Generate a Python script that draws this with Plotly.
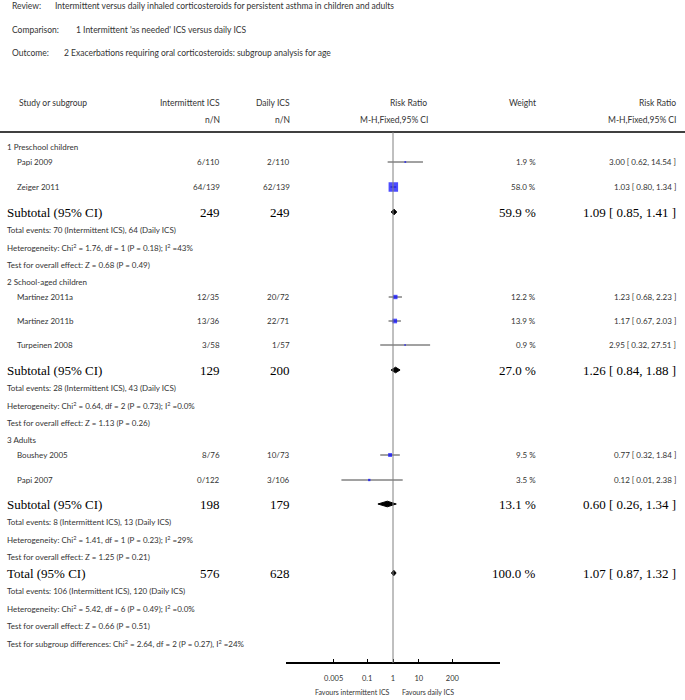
import numpy as np
import plotly.graph_objects as go

# ---- header texts
review = "Intermittent versus daily inhaled corticosteroids for persistent asthma in children and adults"
comparison = "1 Intermittent 'as needed' ICS versus daily ICS"
outcome = "2 Exacerbations requiring oral corticosteroids: subgroup analysis for age"

# ---- studies
studies = ["Papi 2009", "Zeiger 2011", "Martinez 2011a", "Martinez 2011b",
           "Turpeinen 2008", "Boushey 2005", "Papi 2007"]
study_group = [0, 0, 1, 1, 1, 2, 2]
int_events = [6, 64, 12, 13, 3, 8, 0]
int_total = [110, 139, 35, 36, 58, 76, 122]
daily_events = [2, 62, 20, 22, 1, 10, 3]
daily_total = [110, 139, 72, 71, 57, 73, 106]
study_rr = [3.00, 1.03, 1.23, 1.17, 2.95, 0.77, 0.12]
study_lo = [0.62, 0.80, 0.68, 0.67, 0.32, 0.32, 0.01]
study_hi = [14.54, 1.34, 2.23, 2.03, 27.51, 1.84, 2.38]
study_weight = [1.9, 58.0, 12.2, 13.9, 0.9, 9.5, 3.5]

# ---- subgroups
groups = ["1 Preschool children", "2 School-aged children", "3 Adults"]
grp_int_total = [249, 129, 198]
grp_daily_total = [249, 200, 179]
grp_weight = [59.9, 27.0, 13.1]
grp_rr = [1.09, 1.26, 0.60]
grp_lo = [0.85, 0.84, 0.26]
grp_hi = [1.41, 1.88, 1.34]
grp_int_ev = [70, 28, 8]
grp_daily_ev = [64, 43, 13]
grp_het = ["Chi<sup>2</sup> = 1.76, df = 1 (P = 0.18); I<sup>2</sup> =43%",
           "Chi<sup>2</sup> = 0.64, df = 2 (P = 0.73); I<sup>2</sup> =0.0%",
           "Chi<sup>2</sup> = 1.41, df = 1 (P = 0.23); I<sup>2</sup> =29%"]
grp_z = ["Z = 0.68 (P = 0.49)", "Z = 1.13 (P = 0.26)", "Z = 1.25 (P = 0.21)"]

# ---- overall
tot_int_total, tot_daily_total = 576, 628
tot_weight = 100.0
tot_rr, tot_lo, tot_hi = 1.07, 0.87, 1.32
tot_int_ev, tot_daily_ev = 106, 120
tot_het = "Chi<sup>2</sup> = 5.42, df = 6 (P = 0.49); I<sup>2</sup> =0.0%"
tot_z = "Z = 0.66 (P = 0.51)"
subgroup_diff = "Chi<sup>2</sup> = 2.64, df = 2 (P = 0.27), I<sup>2</sup> =24%"

ticks = [0.005, 0.1, 1, 10, 200]
tick_labels = ["0.005", "0.1", "1", "10", "200"]

# ---- layout (pixel rows)
W, H = 685, 700
study_y = [162, 187, 297, 321, 345, 455, 480]
grp_head_y = [147, 282, 440]
grp_sub_y = [212, 370, 504]
total_y = 573
axis_y = 663

SANS = "Lato"
SERIF = "Liberation Serif"

fig = go.Figure()
ann = []


def txt(x, y, s, anchor="left", size=8, bold=False, color="#333"):
    ann.append(dict(x=x / W, y=y, xref="paper", yref="y", text=s, showarrow=False,
                    xanchor=anchor, yanchor="middle",
                    font=dict(family=SERIF if bold else SANS, size=size,
                              color="black" if bold else color)))


# header block
txt(10, 6, "Review:", size=8.5)
txt(53, 6, review, size=8.5)
txt(10, 30, "Comparison:", size=8.5)
txt(74, 30, comparison, size=8.5)
txt(10, 53, "Outcome:", size=8.5)
txt(62, 53, outcome, size=8.5)

txt(17, 103, "Study or subgroup", size=8.5)
txt(222, 103, "Intermittent ICS", "right", 8.5)
txt(222, 120, "n/N", "right", 8.5)
txt(292, 103, "Daily ICS", "right", 8.5)
txt(292, 120, "n/N", "right", 8.5)
txt(429, 103, "Risk Ratio", "right", 8.5)
txt(430, 120, "M-H,Fixed,95% CI", "right", 8.5)
txt(538, 103, "Weight", "right", 8.5)
txt(678, 103, "Risk Ratio", "right", 8.5)
txt(678, 120, "M-H,Fixed,95% CI", "right", 8.5)

fig.add_shape(type="line", xref="paper", yref="y", x0=0, x1=1, y0=132, y1=132,
              line=dict(color="black", width=1.5))

# study rows
for i, s in enumerate(studies):
    y = study_y[i]
    txt(15, y, s)
    txt(222, y, f"{int_events[i]}/{int_total[i]}", "right")
    txt(292, y, f"{daily_events[i]}/{daily_total[i]}", "right")
    txt(538, y, f"{study_weight[i]:.1f} %", "right")
    txt(678, y, f"{study_rr[i]:.2f} [ {study_lo[i]:.2f}, {study_hi[i]:.2f} ]", "right")

# subgroup rows
for g, name in enumerate(groups):
    txt(5, grp_head_y[g], name)
    y = grp_sub_y[g]
    txt(5, y, "Subtotal (95% CI)", size=13, bold=True)
    txt(222, y, str(grp_int_total[g]), "right", 13, True)
    txt(292, y, str(grp_daily_total[g]), "right", 13, True)
    txt(538, y, f"{grp_weight[g]:.1f} %", "right", 13, True)
    txt(678, y, f"{grp_rr[g]:.2f} [ {grp_lo[g]:.2f}, {grp_hi[g]:.2f} ]", "right", 13, True)
    txt(5, y + 18, f"Total events: {grp_int_ev[g]} (Intermittent ICS), {grp_daily_ev[g]} (Daily ICS)")
    txt(5, y + 35.5, "Heterogeneity: " + grp_het[g])
    txt(5, y + 53, "Test for overall effect: " + grp_z[g])

# total rows
txt(5, total_y, "Total (95% CI)", size=13, bold=True)
txt(222, total_y, str(tot_int_total), "right", 13, True)
txt(292, total_y, str(tot_daily_total), "right", 13, True)
txt(538, total_y, f"{tot_weight:.1f} %", "right", 13, True)
txt(678, total_y, f"{tot_rr:.2f} [ {tot_lo:.2f}, {tot_hi:.2f} ]", "right", 13, True)
txt(5, total_y + 18, f"Total events: {tot_int_ev} (Intermittent ICS), {tot_daily_ev} (Daily ICS)")
txt(5, total_y + 35.5, "Heterogeneity: " + tot_het)
txt(5, total_y + 53, "Test for overall effect: " + tot_z)
txt(5, total_y + 70.5, "Test for subgroup differences: " + subgroup_diff)

txt(352, 692, "Favours intermittent ICS", "center", 7)
txt(428, 692, "Favours daily ICS", "center", 7)

# line of no effect
fig.add_shape(type="line", xref="x", yref="y", x0=1, x1=1, y0=132, y1=axis_y,
              line=dict(color="#808080", width=1))

# confidence intervals
for i in range(len(studies)):
    fig.add_trace(go.Scatter(x=[study_lo[i], study_hi[i]], y=[study_y[i]] * 2,
                             mode="lines", line=dict(color="#444", width=1),
                             hoverinfo="skip"))

# study squares, area ~ weight
sizes = [max(1.6, 9.5 * np.sqrt(w / 58.0)) for w in study_weight]
fig.add_trace(go.Scatter(x=study_rr, y=study_y, mode="markers",
                         marker=dict(symbol="square", size=sizes, color="#0000ff",
                                     line=dict(width=0)),
                         text=studies, hoverinfo="text+x"))

# diamonds
dia_rr = grp_rr + [tot_rr]
dia_lo = grp_lo + [tot_lo]
dia_hi = grp_hi + [tot_hi]
dia_y = grp_sub_y + [total_y]
for k in range(len(dia_rr)):
    y = dia_y[k]
    fig.add_trace(go.Scatter(x=[dia_lo[k], dia_rr[k], dia_hi[k], dia_rr[k], dia_lo[k]],
                             y=[y, y - 2.8, y, y + 2.8, y], mode="lines", fill="toself",
                             fillcolor="black", line=dict(color="black", width=1),
                             hoverinfo="skip"))

fig.update_layout(
    width=W, height=H, margin=dict(l=0, r=0, t=0, b=0),
    paper_bgcolor="white", plot_bgcolor="white", showlegend=False,
    annotations=ann,
    xaxis=dict(type="log", range=[-4.15, 4.15], domain=[286 / W, 500 / W],
               anchor="free", position=(H - axis_y) / H,
               tickvals=ticks, ticktext=tick_labels, ticks="inside", ticklen=3,
               tickcolor="black", showline=True, linecolor="black", linewidth=1.5,
               showgrid=False, zeroline=False, ticklabelstandoff=8,
               tickfont=dict(family=SANS, size=7.5, color="#333")),
    yaxis=dict(range=[H, 0], domain=[0, 1], visible=False, showgrid=False),
)

# drop the default page margin so the figure sits at the window's corner
fig.write_html("out.html", config={"displayModeBar": False},
               post_script="document.body.style.margin='0';document.body.style.overflow='hidden';")
